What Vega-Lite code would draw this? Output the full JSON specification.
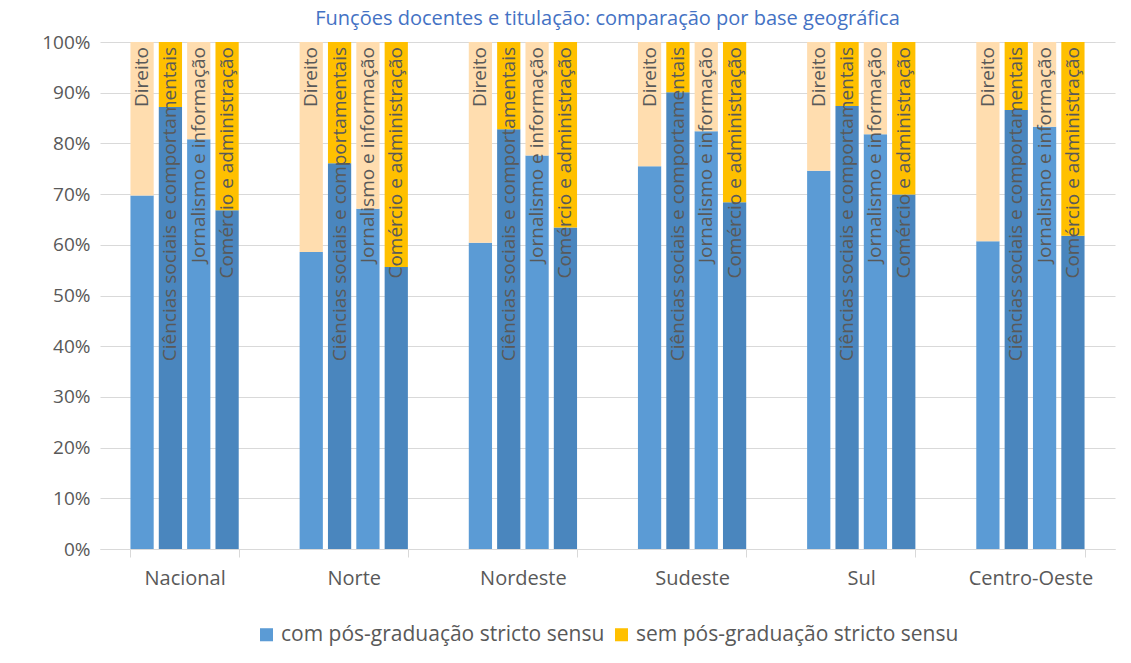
{
  "$schema": "https://vega.github.io/schema/vega-lite/v6.json",
  "width": 1015,
  "height": 507,
  "autosize": "none",
  "padding": {"left": 100, "top": 42, "right": 16, "bottom": 114},
  "background": "white",
  "title": {
    "text": "Funções docentes e titulação: comparação por base geográfica",
    "font": "Open Sans",
    "fontSize": 20,
    "fontWeight": "normal",
    "color": "#4472C4",
    "anchor": "middle",
    "baseline": "alphabetic",
    "offset": 25,
    "dy": 37
  },
  "config": {
    "view": {"stroke": null},
    "font": "Open Sans",
    "legend": {"layout": {"bottom": {"anchor": "middle"}}}
  },
  "data": {
    "values": [
      {"region": "Nacional", "area": "Direito", "status": "com pós-graduação stricto sensu", "value": 0.697},
      {"region": "Nacional", "area": "Direito", "status": "sem pós-graduação stricto sensu", "value": 0.303},
      {"region": "Nacional", "area": "Ciências sociais e comportamentais", "status": "com pós-graduação stricto sensu", "value": 0.872},
      {"region": "Nacional", "area": "Ciências sociais e comportamentais", "status": "sem pós-graduação stricto sensu", "value": 0.128},
      {"region": "Nacional", "area": "Jornalismo e informação", "status": "com pós-graduação stricto sensu", "value": 0.808},
      {"region": "Nacional", "area": "Jornalismo e informação", "status": "sem pós-graduação stricto sensu", "value": 0.192},
      {"region": "Nacional", "area": "Comércio e administração", "status": "com pós-graduação stricto sensu", "value": 0.668},
      {"region": "Nacional", "area": "Comércio e administração", "status": "sem pós-graduação stricto sensu", "value": 0.332},
      {"region": "Norte", "area": "Direito", "status": "com pós-graduação stricto sensu", "value": 0.586},
      {"region": "Norte", "area": "Direito", "status": "sem pós-graduação stricto sensu", "value": 0.414},
      {"region": "Norte", "area": "Ciências sociais e comportamentais", "status": "com pós-graduação stricto sensu", "value": 0.761},
      {"region": "Norte", "area": "Ciências sociais e comportamentais", "status": "sem pós-graduação stricto sensu", "value": 0.239},
      {"region": "Norte", "area": "Jornalismo e informação", "status": "com pós-graduação stricto sensu", "value": 0.671},
      {"region": "Norte", "area": "Jornalismo e informação", "status": "sem pós-graduação stricto sensu", "value": 0.329},
      {"region": "Norte", "area": "Comércio e administração", "status": "com pós-graduação stricto sensu", "value": 0.556},
      {"region": "Norte", "area": "Comércio e administração", "status": "sem pós-graduação stricto sensu", "value": 0.444},
      {"region": "Nordeste", "area": "Direito", "status": "com pós-graduação stricto sensu", "value": 0.604},
      {"region": "Nordeste", "area": "Direito", "status": "sem pós-graduação stricto sensu", "value": 0.396},
      {"region": "Nordeste", "area": "Ciências sociais e comportamentais", "status": "com pós-graduação stricto sensu", "value": 0.828},
      {"region": "Nordeste", "area": "Ciências sociais e comportamentais", "status": "sem pós-graduação stricto sensu", "value": 0.172},
      {"region": "Nordeste", "area": "Jornalismo e informação", "status": "com pós-graduação stricto sensu", "value": 0.776},
      {"region": "Nordeste", "area": "Jornalismo e informação", "status": "sem pós-graduação stricto sensu", "value": 0.224},
      {"region": "Nordeste", "area": "Comércio e administração", "status": "com pós-graduação stricto sensu", "value": 0.634},
      {"region": "Nordeste", "area": "Comércio e administração", "status": "sem pós-graduação stricto sensu", "value": 0.366},
      {"region": "Sudeste", "area": "Direito", "status": "com pós-graduação stricto sensu", "value": 0.755},
      {"region": "Sudeste", "area": "Direito", "status": "sem pós-graduação stricto sensu", "value": 0.245},
      {"region": "Sudeste", "area": "Ciências sociais e comportamentais", "status": "com pós-graduação stricto sensu", "value": 0.901},
      {"region": "Sudeste", "area": "Ciências sociais e comportamentais", "status": "sem pós-graduação stricto sensu", "value": 0.099},
      {"region": "Sudeste", "area": "Jornalismo e informação", "status": "com pós-graduação stricto sensu", "value": 0.824},
      {"region": "Sudeste", "area": "Jornalismo e informação", "status": "sem pós-graduação stricto sensu", "value": 0.176},
      {"region": "Sudeste", "area": "Comércio e administração", "status": "com pós-graduação stricto sensu", "value": 0.684},
      {"region": "Sudeste", "area": "Comércio e administração", "status": "sem pós-graduação stricto sensu", "value": 0.316},
      {"region": "Sul", "area": "Direito", "status": "com pós-graduação stricto sensu", "value": 0.746},
      {"region": "Sul", "area": "Direito", "status": "sem pós-graduação stricto sensu", "value": 0.254},
      {"region": "Sul", "area": "Ciências sociais e comportamentais", "status": "com pós-graduação stricto sensu", "value": 0.874},
      {"region": "Sul", "area": "Ciências sociais e comportamentais", "status": "sem pós-graduação stricto sensu", "value": 0.126},
      {"region": "Sul", "area": "Jornalismo e informação", "status": "com pós-graduação stricto sensu", "value": 0.818},
      {"region": "Sul", "area": "Jornalismo e informação", "status": "sem pós-graduação stricto sensu", "value": 0.182},
      {"region": "Sul", "area": "Comércio e administração", "status": "com pós-graduação stricto sensu", "value": 0.699},
      {"region": "Sul", "area": "Comércio e administração", "status": "sem pós-graduação stricto sensu", "value": 0.301},
      {"region": "Centro-Oeste", "area": "Direito", "status": "com pós-graduação stricto sensu", "value": 0.607},
      {"region": "Centro-Oeste", "area": "Direito", "status": "sem pós-graduação stricto sensu", "value": 0.393},
      {"region": "Centro-Oeste", "area": "Ciências sociais e comportamentais", "status": "com pós-graduação stricto sensu", "value": 0.866},
      {"region": "Centro-Oeste", "area": "Ciências sociais e comportamentais", "status": "sem pós-graduação stricto sensu", "value": 0.134},
      {"region": "Centro-Oeste", "area": "Jornalismo e informação", "status": "com pós-graduação stricto sensu", "value": 0.833},
      {"region": "Centro-Oeste", "area": "Jornalismo e informação", "status": "sem pós-graduação stricto sensu", "value": 0.167},
      {"region": "Centro-Oeste", "area": "Comércio e administração", "status": "com pós-graduação stricto sensu", "value": 0.618},
      {"region": "Centro-Oeste", "area": "Comércio e administração", "status": "sem pós-graduação stricto sensu", "value": 0.382}
    ]
  },
  "transform": [
    {"calculate": "datum.status + '|' + datum.area", "as": "key"}
  ],
  "layer": [
    {
      "mark": {"type": "bar"},
      "encoding": {
        "x": {
          "field": "region",
          "type": "nominal",
          "sort": ["Nacional", "Norte", "Nordeste", "Sudeste", "Sul", "Centro-Oeste"],
          "scale": {"paddingInner": 0.36, "paddingOuter": 0.18},
          "axis": {
            "title": null,
            "labelAngle": 0,
            "labelFontSize": 20,
            "labelColor": "#595959",
            "labelPadding": 11,
            "domainColor": "#D9D9D9",
            "tickColor": "#D9D9D9",
            "tickSize": 8,
            "tickBand": "extent"
          }
        },
        "xOffset": {
          "field": "area",
          "type": "nominal",
          "sort": ["Direito", "Ciências sociais e comportamentais", "Jornalismo e informação", "Comércio e administração"],
          "scale": {"paddingInner": 0.18, "paddingOuter": 0}
        },
        "y": {
          "field": "value",
          "type": "quantitative",
          "stack": "zero",
          "scale": {"domain": [0, 1]},
          "axis": {
            "title": null,
            "format": ".0%",
            "values": [0, 0.1, 0.2, 0.3, 0.4, 0.5, 0.6, 0.7, 0.8, 0.9, 1],
            "labelFontSize": 19,
            "labelColor": "#595959",
            "labelPadding": 10,
            "ticks": false,
            "domain": false,
            "gridColor": "#D9D9D9",
            "gridWidth": 1
          }
        },
        "order": {"field": "status", "sort": "ascending"},
        "color": {
          "field": "key",
          "type": "nominal",
          "scale": {
            "domain": [
              "com pós-graduação stricto sensu|Direito",
              "com pós-graduação stricto sensu|Ciências sociais e comportamentais",
              "com pós-graduação stricto sensu|Jornalismo e informação",
              "com pós-graduação stricto sensu|Comércio e administração",
              "sem pós-graduação stricto sensu|Direito",
              "sem pós-graduação stricto sensu|Ciências sociais e comportamentais",
              "sem pós-graduação stricto sensu|Jornalismo e informação",
              "sem pós-graduação stricto sensu|Comércio e administração"
            ],
            "range": ["#5B9BD5", "#4A86BE", "#5B9BD5", "#4A86BE", "#FFDDAF", "#FFC000", "#FFDDAF", "#FFC000"]
          },
          "legend": {
            "title": null,
            "orient": "bottom",
            "direction": "horizontal",
            "values": [
              "com pós-graduação stricto sensu|Direito",
              "sem pós-graduação stricto sensu|Ciências sociais e comportamentais"
            ],
            "labelExpr": "split(datum.label, '|')[0]",
            "symbolType": "square",
            "symbolSize": 170,
            "symbolStrokeWidth": 0,
            "labelFontSize": 21,
            "labelColor": "#595959",
            "labelLimit": 400,
            "columnPadding": 6,
            "labelOffset": 4,
            "offset": 36
          }
        }
      }
    },
    {
      "transform": [{"filter": "datum.status == 'com pós-graduação stricto sensu'"}],
      "mark": {
        "type": "text",
        "angle": 270,
        "align": "right",
        "baseline": "middle",
        "dx": -5,
        "fontSize": 19,
        "color": "#595959",
        "font": "Open Sans"
      },
      "encoding": {
        "x": {"field": "region", "type": "nominal", "sort": ["Nacional", "Norte", "Nordeste", "Sudeste", "Sul", "Centro-Oeste"]},
        "xOffset": {"field": "area", "type": "nominal", "sort": ["Direito", "Ciências sociais e comportamentais", "Jornalismo e informação", "Comércio e administração"]},
        "y": {"datum": 1},
        "text": {"field": "area"}
      }
    }
  ]
}
